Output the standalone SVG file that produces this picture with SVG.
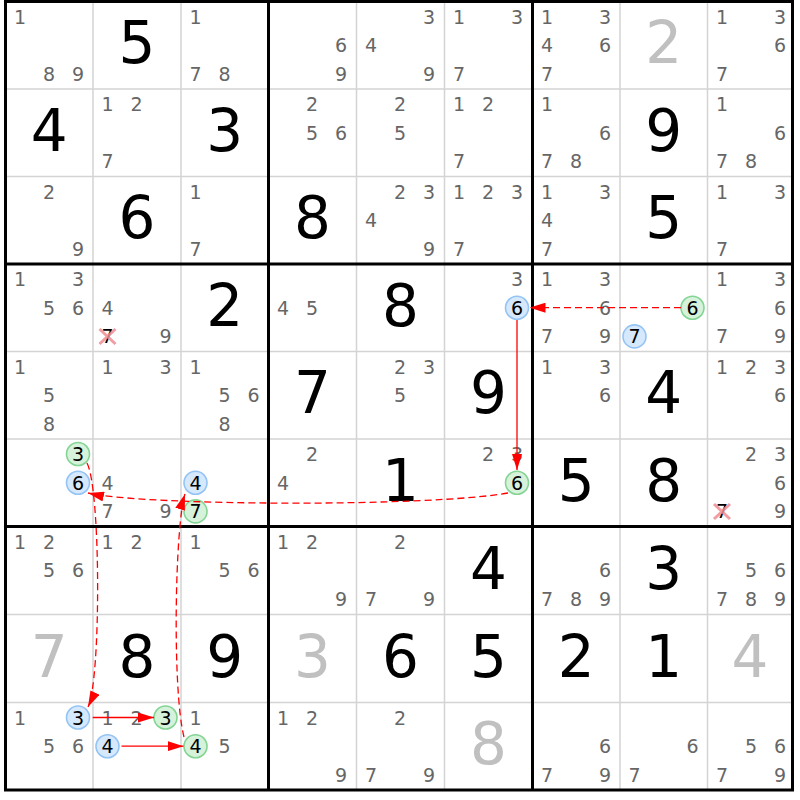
<svg xmlns="http://www.w3.org/2000/svg" width="800" height="800" viewBox="0 0 800 800">
<style>
text{font-family:"DejaVu Sans","Liberation Sans",sans-serif;text-anchor:middle}
.c{font-size:19px;fill:#666}
.k{font-size:19px;fill:#000}
.b{font-size:58px;fill:#000}
.g{font-size:58px;fill:#c0c0c0}
.thin{stroke:#d4d4d4;stroke-width:1.5}
.thick{stroke:#000;stroke-width:3;fill:none}
.cb{fill:#d6e8fc;stroke:#94c4f4;stroke-width:1.6}
.cg{fill:#d6f2da;stroke:#84d494;stroke-width:1.6}
.x{stroke:#f08c94;stroke-width:3;stroke-opacity:0.85}
.a{stroke:#f00;stroke-width:1.3;fill:none;marker-end:url(#ah)}
.d{stroke-dasharray:7,4}
</style>
<defs>
<marker id="ah" markerWidth="16" markerHeight="10" refX="16" refY="5" orient="auto" markerUnits="userSpaceOnUse"><path d="M0,0 L16,5 L0,10 z" fill="#f00"/></marker>
</defs>
<rect x="0" y="0" width="800" height="800" fill="#fff"/>
<g id="grid">
<path class="thin" d="M93,1.5V790M181,1.5V790M356.5,1.5V790M444.5,1.5V790M620,1.5V790M707.5,1.5V790M5.5,89H792.5M5.5,176.5H792.5M5.5,351.5H792.5M5.5,439H792.5M5.5,614.5H792.5M5.5,702.5H792.5"/>
<path class="thick" d="M268.5,1.5V790M532.5,1.5V790M5.5,264H792.5M5.5,526.5H792.5"/>
<rect class="thick" x="5.5" y="1.5" width="787" height="788.5"/>
</g>
<g id="r1c1"><text class="c" x="20" y="23.5">1</text><text class="c" x="49" y="80.9">8</text><text class="c" x="78" y="80.9">9</text></g>
<g id="r1c2"><text class="b" x="137" y="63.25">5</text></g>
<g id="r1c3"><text class="c" x="195.5" y="23.5">1</text><text class="c" x="195.5" y="80.9">7</text><text class="c" x="224.5" y="80.9">8</text></g>
<g id="r1c4"><text class="c" x="341" y="52.2">6</text><text class="c" x="341" y="80.9">9</text></g>
<g id="r1c5"><text class="c" x="429" y="23.5">3</text><text class="c" x="371" y="52.2">4</text><text class="c" x="429" y="80.9">9</text></g>
<g id="r1c6"><text class="c" x="459" y="23.5">1</text><text class="c" x="517" y="23.5">3</text><text class="c" x="459" y="80.9">7</text></g>
<g id="r1c7"><text class="c" x="547" y="23.5">1</text><text class="c" x="605" y="23.5">3</text><text class="c" x="547" y="52.2">4</text><text class="c" x="605" y="52.2">6</text><text class="c" x="547" y="80.9">7</text></g>
<g id="r1c8"><text class="g" x="663.75" y="63.25">2</text></g>
<g id="r1c9"><text class="c" x="722" y="23.5">1</text><text class="c" x="780" y="23.5">3</text><text class="c" x="780" y="52.2">6</text><text class="c" x="722" y="80.9">7</text></g>
<g id="r2c1"><text class="b" x="49.25" y="150.75">4</text></g>
<g id="r2c2"><text class="c" x="107.5" y="111">1</text><text class="c" x="136.5" y="111">2</text><text class="c" x="107.5" y="168.4">7</text></g>
<g id="r2c3"><text class="b" x="224.75" y="150.75">3</text></g>
<g id="r2c4"><text class="c" x="312" y="111">2</text><text class="c" x="312" y="139.7">5</text><text class="c" x="341" y="139.7">6</text></g>
<g id="r2c5"><text class="c" x="400" y="111">2</text><text class="c" x="400" y="139.7">5</text></g>
<g id="r2c6"><text class="c" x="459" y="111">1</text><text class="c" x="488" y="111">2</text><text class="c" x="459" y="168.4">7</text></g>
<g id="r2c7"><text class="c" x="547" y="111">1</text><text class="c" x="605" y="139.7">6</text><text class="c" x="547" y="168.4">7</text><text class="c" x="576" y="168.4">8</text></g>
<g id="r2c8"><text class="b" x="663.75" y="150.75">9</text></g>
<g id="r2c9"><text class="c" x="722" y="111">1</text><text class="c" x="780" y="139.7">6</text><text class="c" x="722" y="168.4">7</text><text class="c" x="751" y="168.4">8</text></g>
<g id="r3c1"><text class="c" x="49" y="198.5">2</text><text class="c" x="78" y="255.9">9</text></g>
<g id="r3c2"><text class="b" x="137" y="238.25">6</text></g>
<g id="r3c3"><text class="c" x="195.5" y="198.5">1</text><text class="c" x="195.5" y="255.9">7</text></g>
<g id="r3c4"><text class="b" x="312.5" y="238.25">8</text></g>
<g id="r3c5"><text class="c" x="400" y="198.5">2</text><text class="c" x="429" y="198.5">3</text><text class="c" x="371" y="227.2">4</text><text class="c" x="429" y="255.9">9</text></g>
<g id="r3c6"><text class="c" x="459" y="198.5">1</text><text class="c" x="488" y="198.5">2</text><text class="c" x="517" y="198.5">3</text><text class="c" x="459" y="255.9">7</text></g>
<g id="r3c7"><text class="c" x="547" y="198.5">1</text><text class="c" x="605" y="198.5">3</text><text class="c" x="547" y="227.2">4</text><text class="c" x="547" y="255.9">7</text></g>
<g id="r3c8"><text class="b" x="663.75" y="238.25">5</text></g>
<g id="r3c9"><text class="c" x="722" y="198.5">1</text><text class="c" x="780" y="198.5">3</text><text class="c" x="722" y="255.9">7</text></g>
<g id="r4c1"><text class="c" x="20" y="286">1</text><text class="c" x="78" y="286">3</text><text class="c" x="49" y="314.7">5</text><text class="c" x="78" y="314.7">6</text></g>
<g id="r4c2"><text class="c" x="107.5" y="314.7">4</text><text class="k" x="107.5" y="343.4">7</text><path class="x" d="M99.5,329L115.5,344M115.5,329L99.5,344"/><text class="c" x="165.5" y="343.4">9</text></g>
<g id="r4c3"><text class="b" x="224.75" y="325.75">2</text></g>
<g id="r4c4"><text class="c" x="283" y="314.7">4</text><text class="c" x="312" y="314.7">5</text></g>
<g id="r4c5"><text class="b" x="400.5" y="325.75">8</text></g>
<g id="r4c6"><text class="c" x="517" y="286">3</text><circle class="cb" cx="517" cy="307.7" r="11.5"/><text class="k" x="517" y="314.7">6</text></g>
<g id="r4c7"><text class="c" x="547" y="286">1</text><text class="c" x="605" y="286">3</text><text class="c" x="605" y="314.7">6</text><text class="c" x="547" y="343.4">7</text><text class="c" x="605" y="343.4">9</text></g>
<g id="r4c8"><circle class="cg" cx="692.5" cy="307.7" r="11.5"/><text class="k" x="692.5" y="314.7">6</text><circle class="cb" cx="634.5" cy="336.4" r="11.5"/><text class="k" x="634.5" y="343.4">7</text></g>
<g id="r4c9"><text class="c" x="722" y="286">1</text><text class="c" x="780" y="286">3</text><text class="c" x="780" y="314.7">6</text><text class="c" x="722" y="343.4">7</text><text class="c" x="780" y="343.4">9</text></g>
<g id="r5c1"><text class="c" x="20" y="373.5">1</text><text class="c" x="49" y="402.2">5</text><text class="c" x="49" y="430.9">8</text></g>
<g id="r5c2"><text class="c" x="107.5" y="373.5">1</text><text class="c" x="165.5" y="373.5">3</text></g>
<g id="r5c3"><text class="c" x="195.5" y="373.5">1</text><text class="c" x="224.5" y="402.2">5</text><text class="c" x="253.5" y="402.2">6</text><text class="c" x="224.5" y="430.9">8</text></g>
<g id="r5c4"><text class="b" x="312.5" y="413.25">7</text></g>
<g id="r5c5"><text class="c" x="400" y="373.5">2</text><text class="c" x="429" y="373.5">3</text><text class="c" x="400" y="402.2">5</text></g>
<g id="r5c6"><text class="b" x="488.5" y="413.25">9</text></g>
<g id="r5c7"><text class="c" x="547" y="373.5">1</text><text class="c" x="605" y="373.5">3</text><text class="c" x="605" y="402.2">6</text></g>
<g id="r5c8"><text class="b" x="663.75" y="413.25">4</text></g>
<g id="r5c9"><text class="c" x="722" y="373.5">1</text><text class="c" x="751" y="373.5">2</text><text class="c" x="780" y="373.5">3</text><text class="c" x="780" y="402.2">6</text></g>
<g id="r6c1"><circle class="cg" cx="78" cy="454" r="11.5"/><text class="k" x="78" y="461">3</text><circle class="cb" cx="78" cy="482.7" r="11.5"/><text class="k" x="78" y="489.7">6</text></g>
<g id="r6c2"><text class="c" x="107.5" y="489.7">4</text><text class="c" x="107.5" y="518.4">7</text><text class="c" x="165.5" y="518.4">9</text></g>
<g id="r6c3"><circle class="cb" cx="195.5" cy="482.7" r="11.5"/><text class="k" x="195.5" y="489.7">4</text><circle class="cg" cx="195.5" cy="511.4" r="11.5"/><text class="k" x="195.5" y="518.4">7</text></g>
<g id="r6c4"><text class="c" x="312" y="461">2</text><text class="c" x="283" y="489.7">4</text></g>
<g id="r6c5"><text class="b" x="400.5" y="500.75">1</text></g>
<g id="r6c6"><text class="c" x="488" y="461">2</text><text class="c" x="517" y="461">3</text><circle class="cg" cx="517" cy="482.7" r="11.5"/><text class="k" x="517" y="489.7">6</text></g>
<g id="r6c7"><text class="b" x="576.25" y="500.75">5</text></g>
<g id="r6c8"><text class="b" x="663.75" y="500.75">8</text></g>
<g id="r6c9"><text class="c" x="751" y="461">2</text><text class="c" x="780" y="461">3</text><text class="c" x="780" y="489.7">6</text><text class="k" x="722" y="518.4">7</text><path class="x" d="M714,504L730,519M730,504L714,519"/><text class="c" x="780" y="518.4">9</text></g>
<g id="r7c1"><text class="c" x="20" y="548.5">1</text><text class="c" x="49" y="548.5">2</text><text class="c" x="49" y="577.2">5</text><text class="c" x="78" y="577.2">6</text></g>
<g id="r7c2"><text class="c" x="107.5" y="548.5">1</text><text class="c" x="136.5" y="548.5">2</text></g>
<g id="r7c3"><text class="c" x="195.5" y="548.5">1</text><text class="c" x="224.5" y="577.2">5</text><text class="c" x="253.5" y="577.2">6</text></g>
<g id="r7c4"><text class="c" x="283" y="548.5">1</text><text class="c" x="312" y="548.5">2</text><text class="c" x="341" y="605.9">9</text></g>
<g id="r7c5"><text class="c" x="400" y="548.5">2</text><text class="c" x="371" y="605.9">7</text><text class="c" x="429" y="605.9">9</text></g>
<g id="r7c6"><text class="b" x="488.5" y="588.5">4</text></g>
<g id="r7c7"><text class="c" x="605" y="577.2">6</text><text class="c" x="547" y="605.9">7</text><text class="c" x="576" y="605.9">8</text><text class="c" x="605" y="605.9">9</text></g>
<g id="r7c8"><text class="b" x="663.75" y="588.5">3</text></g>
<g id="r7c9"><text class="c" x="751" y="577.2">5</text><text class="c" x="780" y="577.2">6</text><text class="c" x="722" y="605.9">7</text><text class="c" x="751" y="605.9">8</text><text class="c" x="780" y="605.9">9</text></g>
<g id="r8c1"><text class="g" x="49.25" y="676.5">7</text></g>
<g id="r8c2"><text class="b" x="137" y="676.5">8</text></g>
<g id="r8c3"><text class="b" x="224.75" y="676.5">9</text></g>
<g id="r8c4"><text class="g" x="312.5" y="676.5">3</text></g>
<g id="r8c5"><text class="b" x="400.5" y="676.5">6</text></g>
<g id="r8c6"><text class="b" x="488.5" y="676.5">5</text></g>
<g id="r8c7"><text class="b" x="576.25" y="676.5">2</text></g>
<g id="r8c8"><text class="b" x="663.75" y="676.5">1</text></g>
<g id="r8c9"><text class="g" x="750" y="676.5">4</text></g>
<g id="r9c1"><text class="c" x="20" y="724.5">1</text><circle class="cb" cx="78" cy="717.5" r="11.5"/><text class="k" x="78" y="724.5">3</text><text class="c" x="49" y="753.2">5</text><text class="c" x="78" y="753.2">6</text></g>
<g id="r9c2"><text class="c" x="107.5" y="724.5">1</text><text class="c" x="136.5" y="724.5">2</text><circle class="cg" cx="165.5" cy="717.5" r="11.5"/><text class="k" x="165.5" y="724.5">3</text><circle class="cb" cx="107.5" cy="746.2" r="11.5"/><text class="k" x="107.5" y="753.2">4</text></g>
<g id="r9c3"><text class="c" x="195.5" y="724.5">1</text><circle class="cg" cx="195.5" cy="746.2" r="11.5"/><text class="k" x="195.5" y="753.2">4</text><text class="c" x="224.5" y="753.2">5</text></g>
<g id="r9c4"><text class="c" x="283" y="724.5">1</text><text class="c" x="312" y="724.5">2</text><text class="c" x="341" y="781.9">9</text></g>
<g id="r9c5"><text class="c" x="400" y="724.5">2</text><text class="c" x="371" y="781.9">7</text><text class="c" x="429" y="781.9">9</text></g>
<g id="r9c6"><text class="g" x="488.5" y="764.25">8</text></g>
<g id="r9c7"><text class="c" x="605" y="753.2">6</text><text class="c" x="547" y="781.9">7</text><text class="c" x="605" y="781.9">9</text></g>
<g id="r9c8"><text class="c" x="692.5" y="753.2">6</text><text class="c" x="634.5" y="781.9">7</text></g>
<g id="r9c9"><text class="c" x="751" y="753.2">5</text><text class="c" x="780" y="753.2">6</text><text class="c" x="722" y="781.9">7</text><text class="c" x="780" y="781.9">9</text></g>
<g id="connectors">
<path class="a d" d="M681,307.7L529.5,307.7"/>
<path class="a" d="M517,320L517,470"/>
<path class="a d" d="M508,493C430,507 145,506 88,493"/>
<path class="a d" d="M87,463C101,490 101,680 88,707"/>
<path class="a d" d="M184,737C172,690 175,525 185,494"/>
<path class="a" d="M92.7,717.5L154,717.5"/>
<path class="a" d="M121.5,746.2L183.5,746.2"/>
</g>
</svg>
